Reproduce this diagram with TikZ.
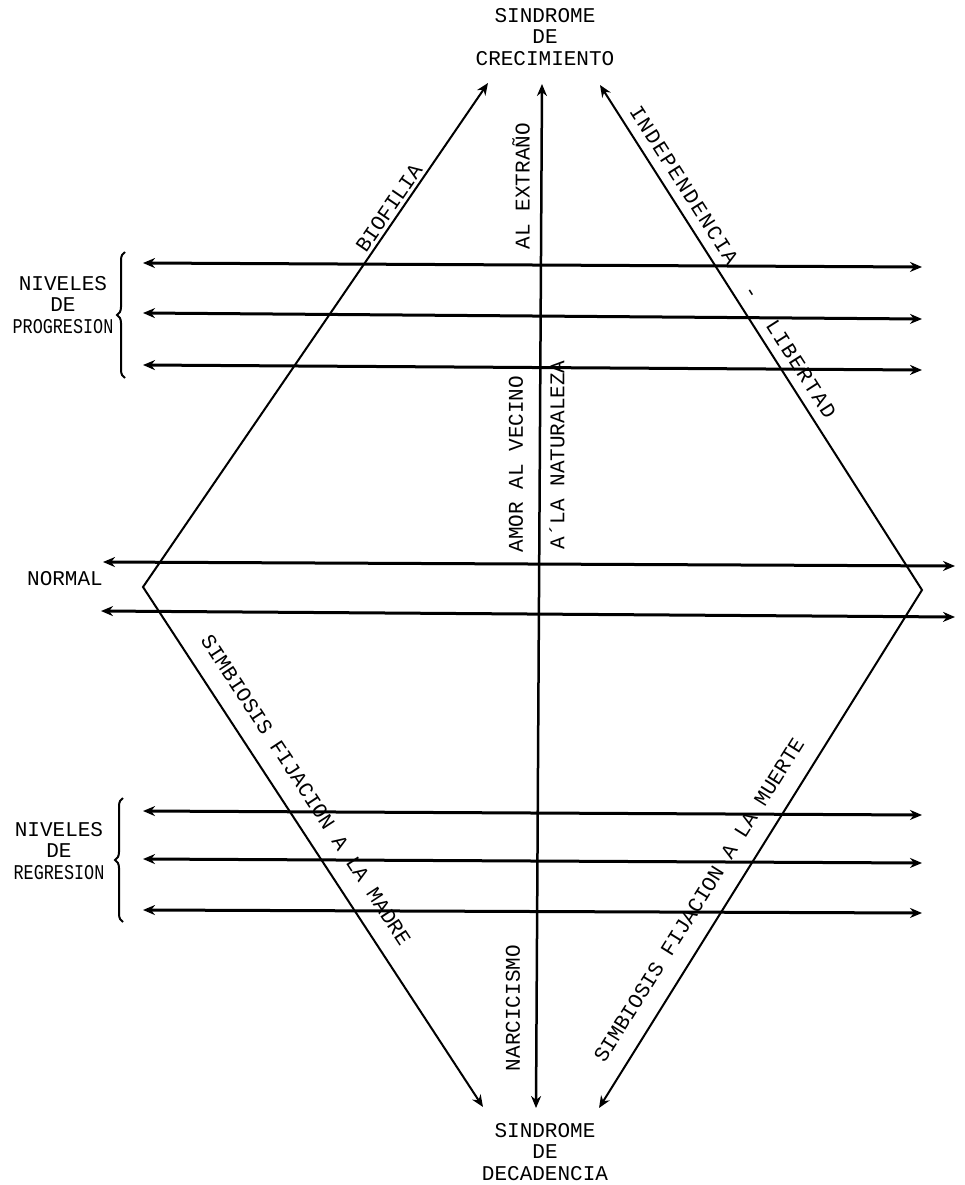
\documentclass[tikz,border=0pt]{standalone}
\usepackage{fontspec}
\setmonofont{Liberation Mono}
\usepackage{tikz}
\usetikzlibrary{positioning,arrows.meta,decorations.pathreplacing}

\tikzset{
  lbl/.style={font=\ttfamily\fontsize{21}{21.5}\selectfont,align=center,inner sep=0pt},
  lvl/.style={<->,line width=3pt},
  side/.style={<->,line width=2pt},
  brc/.style={line width=2pt,decorate,decoration={brace,amplitude=8pt}},
}

\begin{document}
\begin{tikzpicture}[>={Stealth[length=12pt,width=10pt]},x=1pt,y=-1pt]
  \useasboundingbox (0,0) rectangle (964,1185);
  % poles
  \node[lbl] (grow) at (545,37) {SINDROME\\DE\\CRECIMIENTO};
  \node[lbl] (decay) at (545,1152) {SINDROME\\DE\\DECADENCIA};
  % diamond corners and axis ends
  \coordinate (bioTop) at (488,83);
  \coordinate (midTop) at (542,84);
  \coordinate (indTop) at (600,85);
  \coordinate (lVert) at (143,587);
  \coordinate (rVert) at (922,590);
  \coordinate (madBot) at (483,1107);
  \coordinate (midBot) at (536,1108);
  \coordinate (muerBot) at (599,1108);
  % diamond sides and central axis
  \draw[side] (bioTop) -- (lVert) -- (madBot);
  \draw[side] (indTop) -- (rVert) -- (muerBot);
  \draw[side,line width=2.5pt] (midTop) -- (midBot);
  % niveles de progresion
  \coordinate (pl1) at (143,263); \coordinate (pr1) at (922,267);
  \coordinate (pl2) at (143,313); \coordinate (pr2) at (922,319);
  \coordinate (pl3) at (143,365); \coordinate (pr3) at (922,370);
  \draw[lvl] (pl1) -- (pr1);
  \draw[lvl] (pl2) -- (pr2);
  \draw[lvl] (pl3) -- (pr3);
  % normal
  \coordinate (nl1) at (103,562); \coordinate (nr1) at (955,566);
  \coordinate (nl2) at (101,611); \coordinate (nr2) at (955,617);
  \draw[lvl] (nl1) -- (nr1);
  \draw[lvl] (nl2) -- (nr2);
  % niveles de regresion
  \coordinate (rl1) at (143,811); \coordinate (rr1) at (922,815);
  \coordinate (rl2) at (143,859); \coordinate (rr2) at (922,863);
  \coordinate (rl3) at (143,910); \coordinate (rr3) at (922,913);
  \draw[lvl] (rl1) -- (rr1);
  \draw[lvl] (rl2) -- (rr2);
  \draw[lvl] (rl3) -- (rr3);
  % braces and level labels
  \coordinate (pb1) at (125,378); \coordinate (pb2) at (125,252);
  \coordinate (rb1) at (123,922); \coordinate (rb2) at (123,798);
  \draw[brc] (pb1) -- (pb2);
  \draw[brc] (rb1) -- (rb2);
  \node[lbl] (prog) at (63,305) {NIVELES\\DE\\\scalebox{0.8}[1]{PROGRESION}};
  \node[lbl] (regr) at (59,851) {NIVELES\\DE\\\scalebox{0.8}[1]{REGRESION}};
  \node[lbl] (normal) at (65,579) {NORMAL};
  % labels along the lines
  \node[lbl,rotate=55.6] (biofilia) at (389,208) {BIOFILIA};
  \node[lbl,rotate=-57.5] (indep) at (733,262)
    {\addfontfeature{LetterSpace=8}INDEPENDENCIA~~-~~LIBERTAD};
  \node[lbl,rotate=-56.8] (madre) at (306,790) {SIMBIOSIS FIJACION A LA MADRE};
  \node[lbl,rotate=58] (muerte) at (699,900) {SIMBIOSIS FIJACION A LA MUERTE};
  \node[lbl,rotate=90] (extrano) at (521,186) {AL EXTRAÑO};
  \node[lbl,rotate=90] (vecino) at (516,464) {AMOR AL VECINO};
  \node[lbl,rotate=90] (natur) at (557,455) {A´LA NATURALEZA};
  \node[lbl,rotate=90] (narc) at (513,1008) {NARCICISMO};
\end{tikzpicture}
\end{document}
